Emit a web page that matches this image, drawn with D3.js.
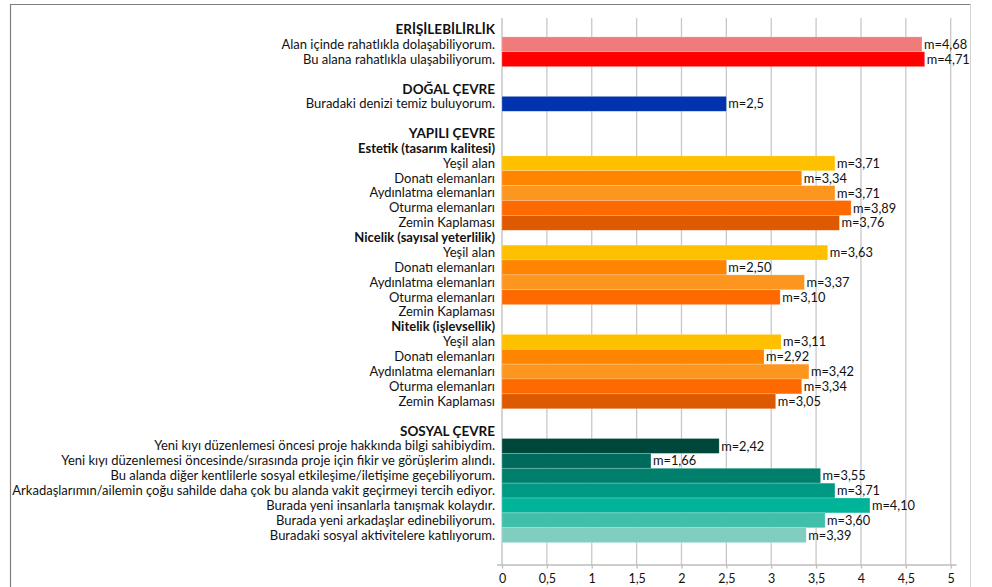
<!DOCTYPE html>
<html>
<head>
<meta charset="utf-8">
<script src="https://cdn.jsdelivr.net/npm/d3@7"></script>
<style>
  html, body { margin: 0; padding: 0; background: #fff; }
  svg { display: block; }
  .cat { font-family: Lato, 'Open Sans', sans-serif; fill: #111; }
  .val { font-family: Lato, 'Open Sans', sans-serif; fill: #111; font-size: 12.8px; }
  .tick text { font-family: Lato, 'Open Sans', sans-serif; font-size: 12.5px; fill: #111; }
</style>
</head>
<body>
<svg id="chart" width="992" height="587"></svg>
<script>
// row labels, top to bottom ('' = empty spacer row)
const labels = [
  'ERİŞİLEBİLİRLİK',
  'Alan içinde rahatlıkla dolaşabiliyorum.',
  'Bu alana rahatlıkla ulaşabiliyorum.',
  '',
  'DOĞAL ÇEVRE',
  'Buradaki denizi temiz buluyorum.',
  '',
  'YAPILI ÇEVRE',
  'Estetik (tasarım kalitesi)',
  'Yeşil alan',
  'Donatı elemanları',
  'Aydınlatma elemanları',
  'Oturma elemanları',
  'Zemin Kaplaması',
  'Nicelik (sayısal yeterlilik)',
  'Yeşil alan',
  'Donatı elemanları',
  'Aydınlatma elemanları',
  'Oturma elemanları',
  'Zemin Kaplaması',
  'Nitelik (işlevsellik)',
  'Yeşil alan',
  'Donatı elemanları',
  'Aydınlatma elemanları',
  'Oturma elemanları',
  'Zemin Kaplaması',
  '',
  'SOSYAL ÇEVRE',
  'Yeni kıyı düzenlemesi öncesi proje hakkında bilgi sahibiydim.',
  'Yeni kıyı düzenlemesi öncesinde/sırasında proje için fikir ve görüşlerim alındı.',
  'Bu alanda diğer kentlilerle sosyal etkileşime/iletişime geçebiliyorum.',
  'Arkadaşlarımın/ailemin çoğu sahilde daha çok bu alanda vakit geçirmeyi tercih ediyor.',
  'Burada yeni insanlarla tanışmak kolaydır.',
  'Burada yeni arkadaşlar edinebiliyorum.',
  'Buradaki sosyal aktivitelere katılıyorum.',
];

// mean scores (null = no bar)
const values = [
  null, 4.68, 4.71,
  null, null, 2.5,
  null, null, null, 3.71, 3.34, 3.71, 3.89, 3.76,
  null, 3.63, 2.50, 3.37, 3.10, null,
  null, 3.11, 2.92, 3.42, 3.34, 3.05,
  null, null, 2.42, 1.66, 3.55, 3.71, 4.10, 3.60, 3.39,
];

// data labels as printed next to the bars
const valueText = [
  '', 'm=4,68', 'm=4,71',
  '', '', 'm=2,5',
  '', '', '', 'm=3,71', 'm=3,34', 'm=3,71', 'm=3,89', 'm=3,76',
  '', 'm=3,63', 'm=2,50', 'm=3,37', 'm=3,10', '',
  '', 'm=3,11', 'm=2,92', 'm=3,42', 'm=3,34', 'm=3,05',
  '', '', 'm=2,42', 'm=1,66', 'm=3,55', 'm=3,71', 'm=4,10', 'm=3,60', 'm=3,39',
];

// h1 = section header, h2 = sub header
const rowLevels = [
  'h1', '', '',
  '', 'h1', '',
  '', 'h1', 'h2', '', '', '', '', '',
  'h2', '', '', '', '', '',
  'h2', '', '', '', '', '',
  '', 'h1', '', '', '', '', '', '', '',
];

const barColors = [
  null, '#F07B7B', '#FF0000',
  null, null, '#0033AD',
  null, null, null, '#FFC000', '#FF8500', '#FD961F', '#FF6A00', '#DD5A00',
  null, '#FFC000', '#FF8500', '#FD961F', '#FF6A00', null,
  null, '#FFC000', '#FF8500', '#FD961F', '#FF6A00', '#DD5A00',
  null, null, '#00473B', '#006B5C', '#007F6D', '#009A84', '#00B399', '#40C0AB', '#80CEBF',
];

const xTicks = [0, 0.5, 1, 1.5, 2, 2.5, 3, 3.5, 4, 4.5, 5];

const rows = labels.map((label, i) => ({
  i,
  label,
  value: values[i],
  text: valueText[i],
  level: rowLevels[i],
  color: barColors[i],
}));

const plot = { left: 502, right: 950.7, top: 18, bottom: 564.5 };

const svg = d3.select('#chart');

const x = d3.scaleLinear()
  .domain([0, 5])
  .range([plot.left, plot.right]);

// category band: rows touch each other (gap width 0), extra room under the last row
const y = d3.scaleBand()
  .domain(rows.map((d) => d.i))
  .range([plot.top, plot.bottom])
  .paddingInner(0)
  .paddingOuter(0.87)
  .align(0.155);

// chart frame
svg.append('path')
  .attr('d', 'M10.5,587 V4.5 H970.5')
  .attr('fill', 'none')
  .attr('stroke', '#7f7f7f')
  .attr('stroke-width', 1.2);
svg.append('line')
  .attr('x1', 970.5).attr('x2', 970.5)
  .attr('y1', 4.5).attr('y2', 587)
  .attr('stroke', '#d4d4d4');

// vertical gridlines
svg.append('g')
  .attr('class', 'grid')
  .selectAll('line')
  .data(xTicks.slice(1))
  .join('line')
    .attr('x1', (d) => x(d))
    .attr('x2', (d) => x(d))
    .attr('y1', plot.top)
    .attr('y2', plot.bottom)
    .attr('stroke', '#c8c8c8')
    .attr('stroke-width', 1.3);

// category axis line
svg.append('line')
  .attr('x1', plot.left).attr('x2', plot.left)
  .attr('y1', plot.top).attr('y2', plot.bottom)
  .attr('stroke', '#bdbdbd')
  .attr('stroke-width', 1.3);

// bars
svg.append('g')
  .attr('class', 'bars')
  .selectAll('rect')
  .data(rows.filter((d) => d.value != null))
  .join('rect')
    .attr('x', x(0))
    .attr('y', (d) => y(d.i))
    .attr('width', (d) => x(d.value) - x(0))
    .attr('height', y.bandwidth())
    .attr('fill', (d) => d.color)
    .attr('stroke', '#ffffff')
    .attr('stroke-opacity', 0.35)
    .attr('stroke-width', 0.6);

// value labels
svg.append('g')
  .attr('class', 'values')
  .selectAll('text')
  .data(rows.filter((d) => d.value != null))
  .join('text')
    .attr('class', 'val')
    .attr('x', (d) => x(d.value) + 2)
    .attr('y', (d) => y(d.i) + y.bandwidth() / 2)
    .attr('dy', '0.36em')
    .text((d) => d.text);

// category labels
svg.append('g')
  .attr('class', 'labels')
  .selectAll('text')
  .data(rows.filter((d) => d.label))
  .join('text')
    .attr('class', 'cat')
    .attr('x', plot.left - 7)
    .attr('y', (d) => y(d.i) + y.bandwidth() / 2)
    .attr('dy', '0.34em')
    .attr('text-anchor', 'end')
    .style('font-size', (d) => (d.level === 'h1' ? '13.5px' : '13px'))
    .style('font-weight', (d) => (d.level ? 'bold' : 'normal'))
    .text((d) => d.label);

// value axis at the bottom
const xAxis = d3.axisBottom(x)
  .tickValues(xTicks)
  .tickFormat((d) => String(d).replace('.', ','))
  .tickSizeInner(4)
  .tickSizeOuter(0)
  .tickPadding(6);

svg.append('g')
  .attr('class', 'x-axis')
  .attr('transform', `translate(0,${plot.bottom})`)
  .call(xAxis)
  .call((g) => g.select('.domain')
    .attr('d', `M${plot.left - 5},0.5H${plot.right + 6}`)
    .attr('stroke', '#bdbdbd')
    .attr('stroke-width', 1.3))
  .call((g) => g.selectAll('.tick line')
    .attr('stroke', '#bdbdbd')
    .attr('stroke-width', 1.3));
</script>
</body>
</html>
